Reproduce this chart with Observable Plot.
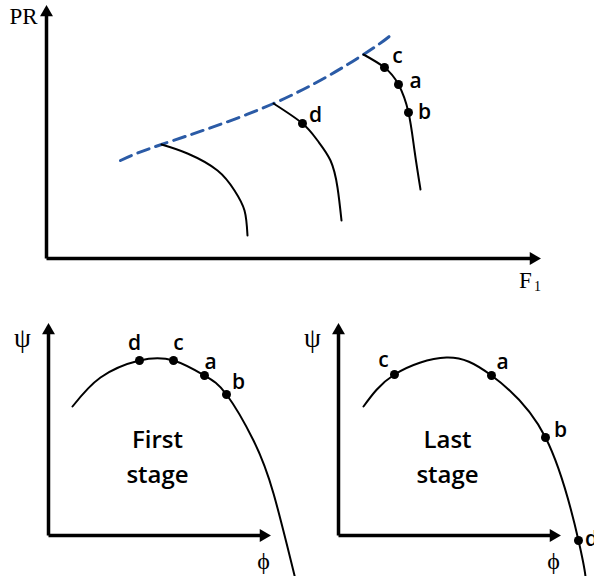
<!DOCTYPE html>
<html>
<head>
<meta charset="utf-8">
<script src="https://cdn.jsdelivr.net/npm/d3@7"></script>
<script src="https://cdn.jsdelivr.net/npm/@observablehq/plot@0.6"></script>
<style>
  html, body { margin: 0; padding: 0; background: #fff; overflow: hidden; }
  #chart { position: relative; width: 594px; height: 576px; }
  #chart > div { position: absolute; }
  #chart svg { overflow: visible; background: transparent; }
</style>
</head>
<body>
<div id="chart">
  <div id="map" style="left:0;top:0"></div>
  <div id="first" style="left:0;top:300px"></div>
  <div id="last" style="left:297px;top:300px"></div>
</div>
<script>
// ---- Compressor map: pressure ratio PR vs corrected flow F1 ----
// Surge line (dashed) through the left end of each speed line
const surgeLine = [
  { f: 1.48, pr: 3.92 }, { f: 2.30, pr: 4.56 }, { f: 4.54, pr: 6.20 },
  { f: 6.34, pr: 8.16 }, { f: 6.94, pr: 9.02 }
];
// Constant-speed lines; entries with a label are operating points
const speedLow = [
  { f: 2.30, pr: 4.56 }, { f: 2.82, pr: 4.20 }, { f: 3.42, pr: 3.52 },
  { f: 3.76, pr: 2.72 }, { f: 3.96, pr: 1.92 }, { f: 4.02, pr: 0.92 }
];
const speedMid = [
  { f: 4.54, pr: 6.20 }, { f: 5.12, pr: 5.40, label: "d" }, { f: 5.42, pr: 4.72 },
  { f: 5.68, pr: 3.92 }, { f: 5.82, pr: 2.84 }, { f: 5.90, pr: 1.52 }
];
const speedHigh = [
  { f: 6.34, pr: 8.16 }, { f: 6.76, pr: 7.64, label: "c" }, { f: 7.04, pr: 6.96, label: "a" },
  { f: 7.24, pr: 5.84, label: "b" }, { f: 7.36, pr: 4.32 }, { f: 7.48, pr: 2.76 }
];
const mapAxisTip = { f: 9.74, pr: 9.84 };

// ---- Stage characteristics: head coefficient psi vs flow coefficient phi ----
const firstStage = [
  { phi: 1.20, psi: 6.45 }, { phi: 2.60, psi: 7.90 }, { phi: 4.55, psi: 8.75, label: "d" },
  { phi: 6.25, psi: 8.75, label: "c" }, { phi: 7.80, psi: 8.00, label: "a" },
  { phi: 8.90, psi: 7.05, label: "b" }, { phi: 10.25, psi: 4.75 }, { phi: 11.25, psi: 2.10 },
  { phi: 12.35, psi: -2.20 }
];
const lastStage = [
  { phi: 1.25, psi: 6.45 }, { phi: 2.80, psi: 8.05, label: "c" },
  { phi: 5.40, psi: 8.90 }, { phi: 7.65, psi: 8.00, label: "a" },
  { phi: 10.35, psi: 4.90, label: "b" }, { phi: 12.00, psi: -0.25, label: "d" },
  { phi: 12.35, psi: -2.05 }
];
const stageAxisTip = { phi: 10.75, psi: 10.25 };

const serif = "'Liberation Serif', 'DejaVu Serif', serif";
const sans = "'Open Sans', 'Noto Sans', sans-serif";
const labelStyle = { fontFamily: sans, fontWeight: 600, fontSize: 21, fill: "#000" };

// Label offsets (px) around each marked point
const mapOffsets = { c: [13, -11], a: [17, -3], b: [16, 0], d: [13, -8] };
const firstOffsets = { d: [-5, -17], c: [5, -17], a: [6, -13], b: [12, -12] };
const lastOffsets = { c: [-11, -14], a: [11, -13], b: [15, -7], d: [13, -1] };

function axisMarks(x, y, tip) {
  const origin = { [x]: 0, [y]: 0 };
  return [
    Plot.link([origin], { x1: x, y1: y, x2: () => tip[x], y2: y, stroke: "#000", strokeWidth: 3.5 }),
    Plot.link([origin], { x1: x, y1: y, x2: x, y2: () => tip[y], stroke: "#000", strokeWidth: 3.5 }),
    Plot.dot([tip], { x: x, y: () => 0, symbol: "triangle", r: 4.8, fill: "#000", rotate: 90 }),
    Plot.dot([tip], { x: () => 0, y: y, symbol: "triangle", r: 4.8, fill: "#000" })
  ];
}

function pointMarks(curves, x, y, offsets) {
  const pts = curves.flat().filter(d => d.label);
  return [
    Plot.dot(pts, { x, y, r: 4.5, fill: "#000" }),
    ...pts.map(p => Plot.text([p], {
      x, y, text: "label", dx: offsets[p.label][0], dy: offsets[p.label][1],
      textAnchor: "middle", lineAnchor: "middle", ...labelStyle
    }))
  ];
}

// Top: compressor map
const map = Plot.plot({
  width: 594, height: 300,
  marginLeft: 46, marginRight: 54, marginTop: 5, marginBottom: 42,
  x: { domain: [0, 9.88], axis: null },
  y: { domain: [0, 10.12], axis: null },
  marks: [
    ...axisMarks("f", "pr", mapAxisTip),
    Plot.line(surgeLine, { x: "f", y: "pr", curve: "natural", stroke: "#2b5ba6", strokeWidth: 3, strokeDasharray: "12,7" }),
    ...[speedLow, speedMid, speedHigh].map(s =>
      Plot.line(s, { x: "f", y: "pr", curve: "natural", stroke: "#000", strokeWidth: 2 })),
    ...pointMarks([speedMid, speedHigh], "f", "pr", mapOffsets),
    Plot.text(["PR"], { x: () => -0.46, y: () => 9.66, textAnchor: "middle", lineAnchor: "middle", fontFamily: serif, fontSize: 23 }),
    Plot.text(["F"], { x: () => 9.58, y: () => -0.88, textAnchor: "middle", lineAnchor: "middle", fontFamily: serif, fontSize: 23 }),
    Plot.text(["1"], { x: () => 9.58, y: () => -0.88, dx: 12, dy: 6, textAnchor: "middle", lineAnchor: "middle", fontFamily: serif, fontSize: 14 })
  ]
});
document.getElementById("map").append(map);

// Bottom: stage characteristics
function stagePlot(curve, title, offsets, marginLeft, marginRight) {
  const titleStyle = { textAnchor: "middle", lineAnchor: "middle", fontFamily: sans, fontWeight: 600, fontSize: 24 };
  return Plot.plot({
    width: 297, height: 276,
    marginLeft, marginRight, marginTop: 23, marginBottom: 41,
    x: { domain: [0, 11.1], axis: null },
    y: { domain: [0, 10.6], axis: null },
    marks: [
      ...axisMarks("phi", "psi", stageAxisTip),
      Plot.line(curve, { x: "phi", y: "psi", curve: "natural", stroke: "#000", strokeWidth: 2 }),
      ...pointMarks([curve], "phi", "psi", offsets),
      Plot.text([title[0]], { x: () => 5.45, y: () => 4.78, ...titleStyle }),
      Plot.text([title[1]], { x: () => 5.45, y: () => 3.02, ...titleStyle }),
      Plot.text(["\u03C8"], { x: () => -1.3, y: () => 9.85, textAnchor: "middle", lineAnchor: "middle", fontFamily: serif, fontSize: 27 }),
      Plot.text(["\u03D5"], { x: () => 10.75, y: () => -1.3, textAnchor: "middle", lineAnchor: "middle", fontFamily: serif, fontSize: 24 })
    ]
  });
}
document.getElementById("first").append(stagePlot(firstStage, ["First", "stage"], firstOffsets, 48, 27));
document.getElementById("last").append(stagePlot(lastStage, ["Last", "stage"], lastOffsets, 41, 34));
</script>
</body>
</html>
